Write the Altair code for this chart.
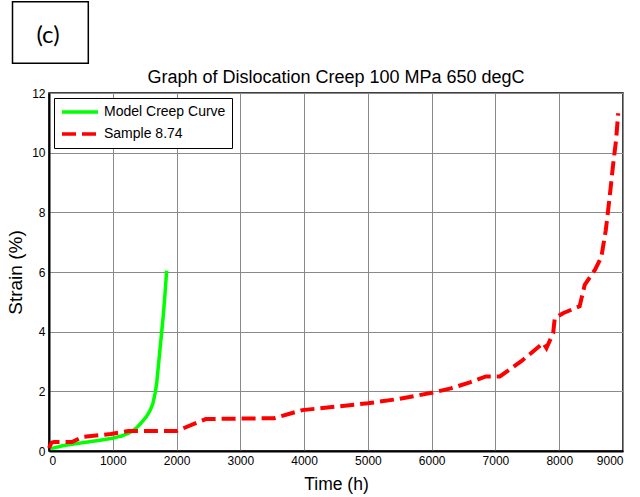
import altair as alt
import pandas as pd

# Model creep curve (time in hours, strain in %)
model_time = [30, 200, 400, 600, 800, 1000, 1150, 1270, 1370, 1450, 1530, 1590,
              1630, 1665, 1690, 1715, 1740, 1765, 1790, 1820, 1845]
model_strain = [0.08, 0.17, 0.24, 0.30, 0.36, 0.43, 0.51, 0.62, 0.77, 0.95, 1.16, 1.38,
                1.60, 1.95, 2.30, 2.85, 3.40, 3.95, 4.50, 5.30, 6.05]

# Measured creep data, sample 8.74
sample_time = [0, 40, 80, 360, 520, 970, 1250, 2000, 2460, 3530, 3970, 4560, 5000,
               5500, 6000, 6300, 6600, 6850, 7070, 7400, 7750, 7800, 7905, 7930,
               8060, 8320, 8400, 8560, 8660, 8730, 8790, 8840, 8890, 8925]
sample_strain = [0.10, 0.28, 0.30, 0.30, 0.47, 0.57, 0.67, 0.67, 1.07, 1.10, 1.37, 1.50, 1.60,
                 1.75, 1.95, 2.10, 2.30, 2.50, 2.50, 3.00, 3.62, 3.45, 3.95, 4.45,
                 4.62, 4.85, 5.57, 6.07, 6.50, 7.40, 8.50, 9.50, 10.40, 11.32]

series_names = ["Model Creep Curve", "Sample 8.74"]
x_ticks = list(range(0, 9001, 1000))
y_ticks = list(range(0, 13, 2))
title_text = "Graph of Dislocation Creep 100 MPa 650 degC"
panel_tag = "(c)"

model_df = pd.DataFrame({"series": series_names[0], "time": model_time,
                         "strain": model_strain, "idx": range(len(model_time))})
sample_df = pd.DataFrame({"series": series_names[1], "time": sample_time,
                          "strain": sample_strain, "idx": range(len(sample_time))})

FONT = "Liberation Sans"
W, H = 574, 358

x_enc = alt.X("time:Q",
              scale=alt.Scale(domain=[0, 9000], nice=False, zero=False),
              axis=alt.Axis(title="Time (h)", values=x_ticks, format="d"))
y_enc = alt.Y("strain:Q",
              scale=alt.Scale(domain=[0, 12], nice=False),
              axis=alt.Axis(title="Strain (%)", values=y_ticks, format="d"))

color_enc = alt.Color(
    "series:N",
    scale=alt.Scale(domain=series_names, range=["#00ff00", "#ff0000"]),
    legend=alt.Legend(
        orient="none", legendX=5, legendY=5, title=None,
        symbolType="stroke", symbolSize=1296, symbolStrokeWidth=3.5,
        clipHeight=16, rowPadding=6,
        labelFont=FONT, labelFontSize=14, labelColor="black",
        strokeColor="black", fillColor="white", padding=6,
        labelOffset=4, cornerRadius=0,
    ),
)
dash_enc = alt.StrokeDash(
    "series:N",
    scale=alt.Scale(domain=series_names, range=[[1, 0], [14, 6]]),
    legend=None,
)

model_line = alt.Chart(model_df).mark_line(strokeWidth=3.5).encode(
    x=x_enc, y=y_enc, color=color_enc, strokeDash=dash_enc, order="idx:Q"
)
sample_line = alt.Chart(sample_df).mark_line(strokeWidth=4).encode(
    x=x_enc, y=y_enc, color=color_enc, strokeDash=dash_enc, order="idx:Q"
)

# Chart title, centred over the plot area
title_mark = alt.Chart(alt.Data(values=[{"t": title_text}])).mark_text(
    font=FONT, fontSize=18, color="black", align="center", baseline="alphabetic"
).encode(x=alt.value(W / 2), y=alt.value(-10), text="t:N")

# Panel tag in a framed box above the plot
tag_box = alt.Chart(alt.Data(values=[{"tag": panel_tag}])).mark_rect(
    fill="white", stroke="black", strokeWidth=1.5
).encode(x=alt.value(-36.5), x2=alt.value(39.3), y=alt.value(-91.3), y2=alt.value(-29.7))
tag_text = alt.Chart(alt.Data(values=[{"tag": panel_tag}])).mark_text(
    font="Lato", fontSize=24, color="black", align="center", baseline="middle"
).encode(x=alt.value(-1), y=alt.value(-57), text="tag:N")

chart = alt.layer(model_line, sample_line, title_mark, tag_box, tag_text).properties(
    width=W,
    height=H,
    padding={"left": 49, "top": 93, "right": 17, "bottom": 46},
    autosize=alt.AutoSizeParams(type="none"),
).configure_view(
    stroke="black", strokeWidth=1.5
).configure_axis(
    labelFont=FONT, labelFontSize=12, labelColor="black",
    titleFont=FONT, titleFontWeight="normal", titleColor="black",
    domainColor="black", domainWidth=2,
    grid=True, gridColor="#8a8a8a", gridWidth=1,
    ticks=False, labelPadding=4,
).configure_axisX(
    titleFontSize=17.5, titlePadding=9,
).configure_axisY(
    titleFontSize=19, titlePadding=6,
)

chart.save("out.html", embed_options={"renderer": "svg", "actions": False})
